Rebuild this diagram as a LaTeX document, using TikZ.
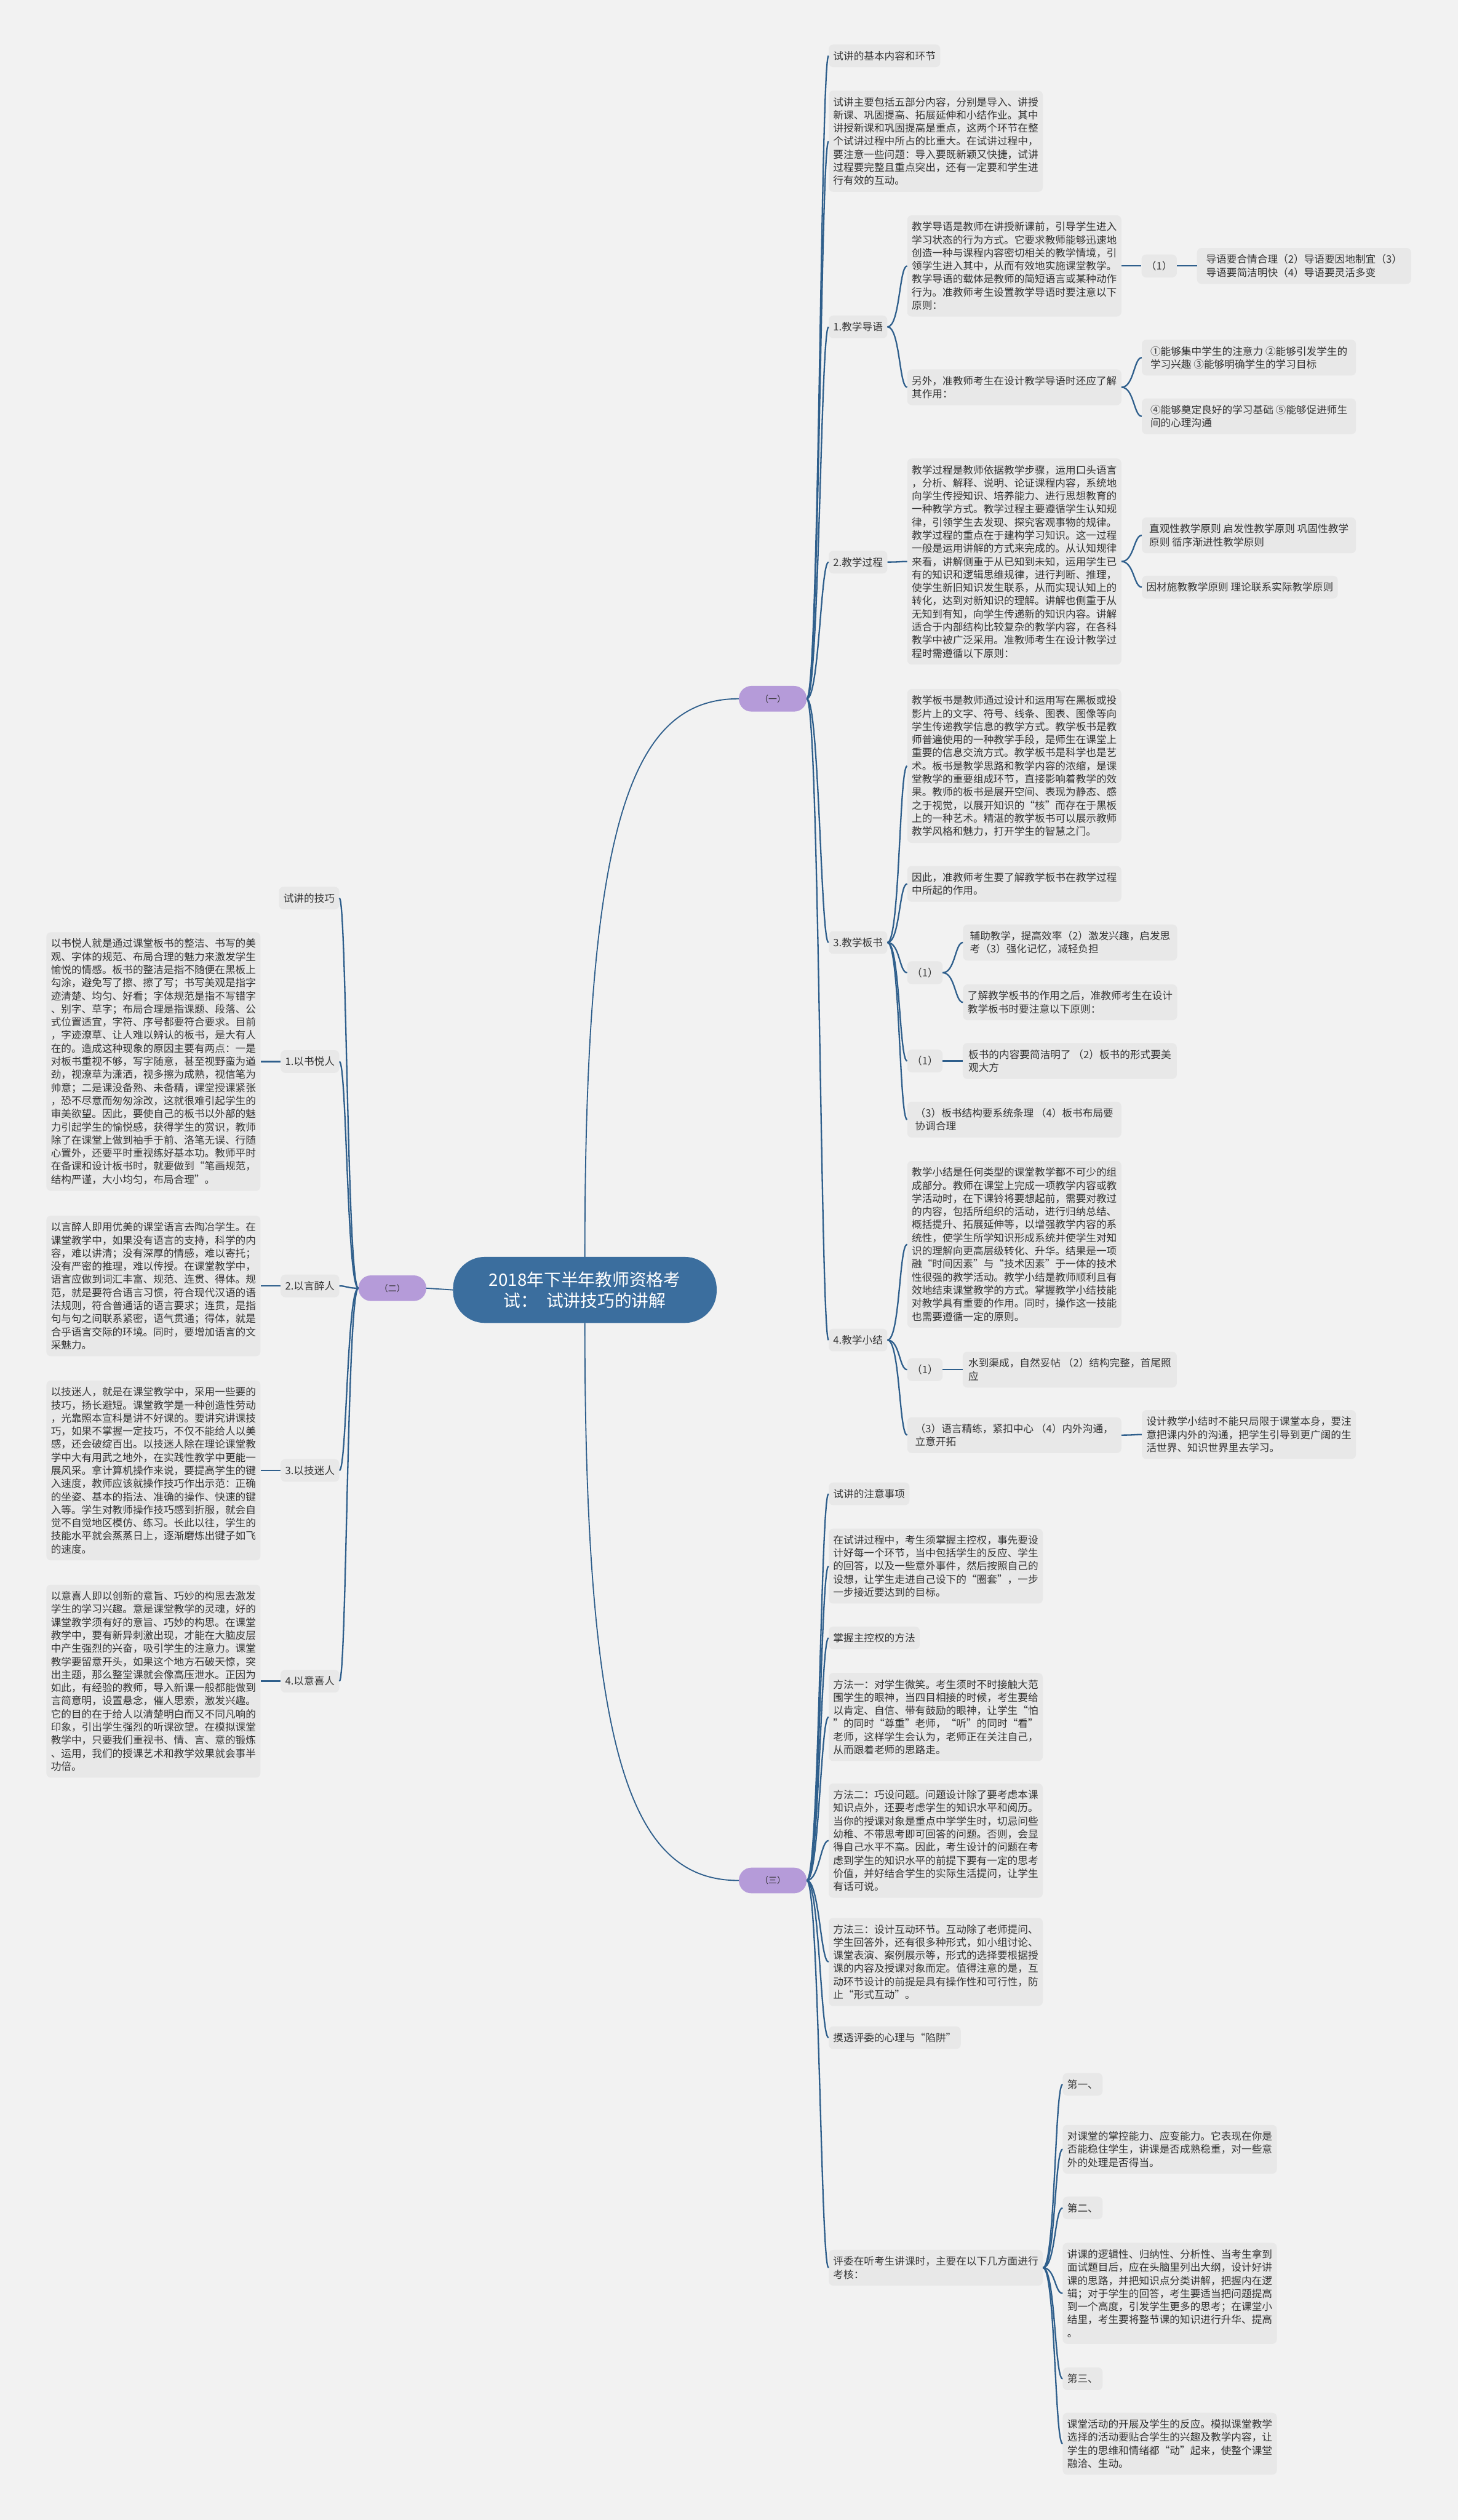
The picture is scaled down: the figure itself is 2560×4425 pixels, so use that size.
\documentclass[tikz,border=0pt]{standalone}
\usepackage{fontspec}
\setmainfont{Noto Sans CJK SC}
\usetikzlibrary{positioning}
\definecolor{MapPaper}{HTML}{F2F2F2}
\definecolor{MapCard}{HTML}{E8E8E8}
\definecolor{MapInk}{HTML}{333333}
\definecolor{MapLine}{HTML}{2F5F8C}
\definecolor{MapNavy}{HTML}{3B6E9E}
\definecolor{MapLilac}{HTML}{B59BD9}
\newcommand{\cardfont}{\fontsize{18}{23}\selectfont}
\newcommand{\titlefont}{\fontsize{30}{37}\selectfont}
\newcommand{\tagfont}{\fontsize{15}{18}\selectfont}

\begin{document}
\begin{tikzpicture}[
  x=1pt, y=-1pt,
  node distance=35pt,
  topic/.style={fill=MapCard, rounded corners=8pt, text=MapInk, font=\cardfont, align=left, inner xsep=8pt, inner ysep=11.5pt},
  card/.style={topic, minimum width=376pt},
  branch/.style={fill=MapLilac, rounded corners=22pt, minimum width=119pt, minimum height=45pt, inner sep=0pt, text=MapInk, font=\tagfont},
  rootnode/.style={fill=MapNavy, rounded corners=56pt, minimum width=463pt, minimum height=116pt, inner sep=0pt, align=center, text=white, font=\titlefont},
  link/.style={draw=MapLine, line width=2.5pt},
  trunk/.style={draw=MapLine, line width=2pt},
  rlink/.style={link, to path={.. controls +(22,0) and +(-14,0) .. (\tikztotarget) \tikztonodes}},
  llink/.style={link, to path={.. controls +(-20,0) and +(13,0) .. (\tikztotarget) \tikztonodes}}
]
\useasboundingbox (0,0) rectangle (2560,4425);
\fill[MapPaper] (0,0) rectangle (2560,4425);

% centre and the three branches
\node[rootnode] (root) at (1027,2265) {2018年下半年教师资格考\\试：\enspace 试讲技巧的讲解};
\node[branch] (b1) at (1357,1227) {（一）};
\node[branch] (b2) at (689,2262) {（二）};
\node[branch] (b3) at (1357,3302) {（三）};
\draw[trunk] (root.north) .. controls +(0,-760) and +(-190,0) .. (b1.west);
\draw[trunk] (root.south) .. controls +(0,760) and +(-190,0) .. (b3.west);
\draw[trunk] (root.west) -- (b2.east);

% (一)
\node[topic, anchor=west] (n11) at (1455,98) {试讲的基本内容和环节};
\node[card, anchor=west] (n12) at (1455,248) {试讲主要包括五部分内容，分别是导入、讲授\\新课、巩固提高、拓展延伸和小结作业。其中\\讲授新课和巩固提高是重点，这两个环节在整\\个试讲过程中所占的比重大。在试讲过程中，\\要注意一些问题：导入要既新颖又快捷，试讲\\过程要完整且重点突出，还有一定要和学生进\\行有效的互动。};
\node[topic, anchor=west] (n13) at (1455,574) {1.教学导语};
\node[topic, anchor=west] (n14) at (1455,987) {2.教学过程};
\node[topic, anchor=west] (n15) at (1455,1655) {3.教学板书};
\node[topic, anchor=west] (n16) at (1455,2353) {4.教学小结};

\node[card, anchor=west] (n131) at (1593,467) {教学导语是教师在讲授新课前，引导学生进入\\学习状态的行为方式。它要求教师能够迅速地\\创造一种与课程内容密切相关的教学情境，引\\领学生进入其中，从而有效地实施课堂教学。\\教学导语的载体是教师的简短语言或某种动作\\行为。准教师考生设置教学导语时要注意以下\\原则：};
\node[topic, right=of n131] (n1311) {（1）};
\node[card, right=of n1311] (n13111) {导语要合情合理（2）导语要因地制宜（3）\\导语要简洁明快（4）导语要灵活多变};
\node[card, anchor=west] (n132) at (1593,680) {另外，准教师考生在设计教学导语时还应了解\\其作用：};
\node[card, anchor=west] (n1321) at (2005,628) {①能够集中学生的注意力 ②能够引发学生的\\学习兴趣 ③能够明确学生的学习目标};
\node[card, anchor=west] (n1322) at (2005,731) {④能够奠定良好的学习基础 ⑤能够促进师生\\间的心理沟通};

\node[card, anchor=west] (n141) at (1593,986) {教学过程是教师依据教学步骤，运用口头语言\\，分析、解释、说明、论证课程内容，系统地\\向学生传授知识、培养能力、进行思想教育的\\一种教学方式。教学过程主要遵循学生认知规\\律，引领学生去发现、探究客观事物的规律。\\教学过程的重点在于建构学习知识。这一过程\\一般是运用讲解的方式来完成的。从认知规律\\来看，讲解侧重于从已知到未知，运用学生已\\有的知识和逻辑思维规律，进行判断、推理，\\使学生新旧知识发生联系，从而实现认知上的\\转化，达到对新知识的理解。讲解也侧重于从\\无知到有知，向学生传递新的知识内容。讲解\\适合于内部结构比较复杂的教学内容，在各科\\教学中被广泛采用。准教师考生在设计教学过\\程时需遵循以下原则：};
\node[card, anchor=west] (n1411) at (2005,940) {直观性教学原则 启发性教学原则 巩固性教学\\原则 循序渐进性教学原则};
\node[topic, anchor=west] (n1412) at (2005,1031) {因材施教教学原则 理论联系实际教学原则};

\node[card, anchor=west] (n151) at (1593,1345) {教学板书是教师通过设计和运用写在黑板或投\\影片上的文字、符号、线条、图表、图像等向\\学生传递教学信息的教学方式。教学板书是教\\师普遍使用的一种教学手段，是师生在课堂上\\重要的信息交流方式。教学板书是科学也是艺\\术。板书是教学思路和教学内容的浓缩，是课\\堂教学的重要组成环节，直接影响着教学的效\\果。教师的板书是展开空间、表现为静态、感\\之于视觉，以展开知识的“核”而存在于黑板\\上的一种艺术。精湛的教学板书可以展示教师\\教学风格和魅力，打开学生的智慧之门。};
\node[card, anchor=west] (n152) at (1593,1552) {因此，准教师考生要了解教学板书在教学过程\\中所起的作用。};
\node[topic, anchor=west] (n153) at (1593,1708) {（1）};
\node[card, anchor=west] (n1531) at (1691,1655) {辅助教学，提高效率（2）激发兴趣，启发思\\考（3）强化记忆，减轻负担};
\node[card, anchor=west] (n1532) at (1691,1760) {了解教学板书的作用之后，准教师考生在设计\\教学板书时要注意以下原则：};
\node[topic, anchor=west] (n154) at (1593,1863) {（1）};
\node[card, right=of n154] (n1541) {板书的内容要简洁明了 （2）板书的形式要美\\观大方};
\node[card, anchor=west] (n155) at (1593,1966) {（3）板书结构要系统条理 （4）板书布局要\\协调合理};

\node[card, anchor=west] (n161) at (1593,2185) {教学小结是任何类型的课堂教学都不可少的组\\成部分。教师在课堂上完成一项教学内容或教\\学活动时，在下课铃将要想起前，需要对教过\\的内容，包括所组织的活动，进行归纳总结、\\概括提升、拓展延伸等，以增强教学内容的系\\统性，使学生所学知识形成系统并使学生对知\\识的理解向更高层级转化、升华。结果是一项\\融“时间因素”与“技术因素”于一体的技术\\性很强的教学活动。教学小结是教师顺利且有\\效地结束课堂教学的方式。掌握教学小结技能\\对教学具有重要的作用。同时，操作这一技能\\也需要遵循一定的原则。};
\node[topic, anchor=west] (n162) at (1593,2405) {（1）};
\node[card, right=of n162] (n1621) {水到渠成，自然妥帖 （2）结构完整，首尾照\\应};
\node[card, anchor=west] (n163) at (1593,2520) {（3）语言精练，紧扣中心 （4）内外沟通，\\立意开拓};
\node[card, anchor=west] (n1631) at (2005,2519) {设计教学小结时不能只局限于课堂本身，要注\\意把课内外的沟通，把学生引导到更广阔的生\\活世界、知识世界里去学习。};

\draw[rlink] (b1.east) to (n11.west);
\draw[rlink] (b1.east) to (n12.west);
\draw[rlink] (b1.east) to (n13.west);
\draw[rlink] (b1.east) to (n14.west);
\draw[rlink] (b1.east) to (n15.west);
\draw[rlink] (b1.east) to (n16.west);
\draw[rlink] (n13.east) to (n131.west);
\draw[rlink] (n13.east) to (n132.west);
\draw[rlink] (n131.east) to (n1311.west);
\draw[rlink] (n1311.east) to (n13111.west);
\draw[rlink] (n132.east) to (n1321.west);
\draw[rlink] (n132.east) to (n1322.west);
\draw[rlink] (n14.east) to (n141.west);
\draw[rlink] (n141.east) to (n1411.west);
\draw[rlink] (n141.east) to (n1412.west);
\draw[rlink] (n15.east) to (n151.west);
\draw[rlink] (n15.east) to (n152.west);
\draw[rlink] (n15.east) to (n153.west);
\draw[rlink] (n15.east) to (n154.west);
\draw[rlink] (n15.east) to (n155.west);
\draw[rlink] (n153.east) to (n1531.west);
\draw[rlink] (n153.east) to (n1532.west);
\draw[rlink] (n154.east) to (n1541.west);
\draw[rlink] (n16.east) to (n161.west);
\draw[rlink] (n16.east) to (n162.west);
\draw[rlink] (n16.east) to (n163.west);
\draw[rlink] (n162.east) to (n1621.west);
\draw[rlink] (n163.east) to (n1631.west);

% (二)
\node[topic, anchor=east] (n21) at (596,1577) {试讲的技巧};
\node[topic, anchor=east] (n22) at (596,1864) {1.以书悦人};
\node[topic, anchor=east] (n23) at (596,2258) {2.以言醉人};
\node[topic, anchor=east] (n24) at (596,2582) {3.以技迷人};
\node[topic, anchor=east] (n25) at (596,2952) {4.以意喜人};
\node[card, left=of n22] (n221) {以书悦人就是通过课堂板书的整洁、书写的美\\观、字体的规范、布局合理的魅力来激发学生\\愉悦的情感。板书的整洁是指不随便在黑板上\\勾涂，避免写了擦、擦了写；书写美观是指字\\迹清楚、均匀、好看；字体规范是指不写错字\\、别字、草字；布局合理是指课题、段落、公\\式位置适宜，字符、序号都要符合要求。目前\\，字迹潦草、让人难以辨认的板书，是大有人\\在的。造成这种现象的原因主要有两点：一是\\对板书重视不够，写字随意，甚至视野蛮为遒\\劲，视潦草为潇洒，视多擦为成熟，视信笔为\\帅意；二是课没备熟、未备精，课堂授课紧张\\，恐不尽意而匆匆涂改，这就很难引起学生的\\审美欲望。因此，要使自己的板书以外部的魅\\力引起学生的愉悦感，获得学生的赏识，教师\\除了在课堂上做到袖手于前、洛笔无误、行随\\心置外，还要平时重视练好基本功。教师平时\\在备课和设计板书时，就要做到“笔画规范，\\结构严谨，大小均匀，布局合理”。};
\node[card, left=of n23] (n231) {以言醉人即用优美的课堂语言去陶冶学生。在\\课堂教学中，如果没有语言的支持，科学的内\\容，难以讲清；没有深厚的情感，难以寄托；\\没有严密的推理，难以传授。在课堂教学中，\\语言应做到词汇丰富、规范、连贯、得体。规\\范，就是要符合语言习惯，符合现代汉语的语\\法规则，符合普通话的语言要求；连贯，是指\\句与句之间联系紧密，语气贯通；得体，就是\\合乎语言交际的环境。同时，要增加语言的文\\采魅力。};
\node[card, left=of n24] (n241) {以技迷人，就是在课堂教学中，采用一些要的\\技巧，扬长避短。课堂教学是一种创造性劳动\\，光靠照本宣科是讲不好课的。要讲究讲课技\\巧，如果不掌握一定技巧，不仅不能给人以美\\感，还会破绽百出。以技迷人除在理论课堂教\\学中大有用武之地外，在实践性教学中更能一\\展风采。拿计算机操作来说，要提高学生的键\\入速度，教师应该就操作技巧作出示范：正确\\的坐姿、基本的指法、准确的操作、快速的键\\入等。学生对教师操作技巧感到折服，就会自\\觉不自觉地区模仿、练习。长此以往，学生的\\技能水平就会蒸蒸日上，逐渐磨炼出键子如飞\\的速度。};
\node[card, left=of n25] (n251) {以意喜人即以创新的意旨、巧妙的构思去激发\\学生的学习兴趣。意是课堂教学的灵魂，好的\\课堂教学须有好的意旨、巧妙的构思。在课堂\\教学中，要有新异刺激出现，才能在大脑皮层\\中产生强烈的兴奋，吸引学生的注意力。课堂\\教学要留意开头，如果这个地方石破天惊，突\\出主题，那么整堂课就会像高压泄水。正因为\\如此，有经验的教师，导入新课一般都能做到\\言简意明，设置悬念，催人思索，激发兴趣。\\它的目的在于给人以清楚明白而又不同凡响的\\印象，引出学生强烈的听课欲望。在模拟课堂\\教学中，只要我们重视书、情、言、意的锻炼\\、运用，我们的授课艺术和教学效果就会事半\\功倍。};

\draw[llink] (b2.west) to (n21.east);
\draw[llink] (b2.west) to (n22.east);
\draw[llink] (b2.west) to (n23.east);
\draw[llink] (b2.west) to (n24.east);
\draw[llink] (b2.west) to (n25.east);
\draw[llink] (n22.west) to (n221.east);
\draw[llink] (n23.west) to (n231.east);
\draw[llink] (n24.west) to (n241.east);
\draw[llink] (n25.west) to (n251.east);

% (三)
\node[topic, anchor=west] (n31) at (1455,2623) {试讲的注意事项};
\node[card, anchor=west] (n32) at (1455,2750) {在试讲过程中，考生须掌握主控权，事先要设\\计好每一个环节，当中包括学生的反应、学生\\的回答，以及一些意外事件，然后按照自己的\\设想，让学生走进自己设下的“圈套”，一步\\一步接近要达到的目标。};
\node[topic, anchor=west] (n33) at (1455,2876) {掌握主控权的方法};
\node[card, anchor=west] (n34) at (1455,3015) {方法一：对学生微笑。考生须时不时接触大范\\围学生的眼神，当四目相接的时候，考生要给\\以肯定、自信、带有鼓励的眼神，让学生“怕\\”的同时“尊重”老师，“听”的同时“看”\\老师，这样学生会认为，老师正在关注自己，\\从而跟着老师的思路走。};
\node[card, anchor=west] (n35) at (1455,3232) {方法二：巧设问题。问题设计除了要考虑本课\\知识点外，还要考虑学生的知识水平和阅历。\\当你的授课对象是重点中学学生时，切忌问些\\幼稚、不带思考即可回答的问题。否则，会显\\得自己水平不高。因此，考生设计的问题在考\\虑到学生的知识水平的前提下要有一定的思考\\价值，并好结合学生的实际生活提问，让学生\\有话可说。};
\node[card, anchor=west] (n36) at (1455,3445) {方法三：设计互动环节。互动除了老师提问、\\学生回答外，还有很多种形式，如小组讨论、\\课堂表演、案例展示等，形式的选择要根据授\\课的内容及授课对象而定。值得注意的是，互\\动环节设计的前提是具有操作性和可行性，防\\止“形式互动”。};
\node[topic, anchor=west] (n37) at (1455,3578) {摸透评委的心理与“陷阱”};
\node[card, anchor=west] (n38) at (1455,3982) {评委在听考生讲课时，主要在以下几方面进行\\考核：};
\node[topic, anchor=west] (n381) at (1866,3660) {第一、};
\node[card, anchor=west] (n382) at (1866,3774) {对课堂的掌控能力、应变能力。它表现在你是\\否能稳住学生，讲课是否成熟稳重，对一些意\\外的处理是否得当。};
\node[topic, anchor=west] (n383) at (1866,3877) {第二、};
\node[card, anchor=west] (n384) at (1866,4027) {讲课的逻辑性、归纳性、分析性、当考生拿到\\面试题目后，应在头脑里列出大纲，设计好讲\\课的思路，并把知识点分类讲解，把握内在逻\\辑；对于学生的回答，考生要适当把问题提高\\到一个高度，引发学生更多的思考；在课堂小\\结里，考生要将整节课的知识进行升华、提高\\。};
\node[topic, anchor=west] (n385) at (1866,4177) {第三、};
\node[card, anchor=west] (n386) at (1866,4291) {课堂活动的开展及学生的反应。模拟课堂教学\\选择的活动要贴合学生的兴趣及教学内容，让\\学生的思维和情绪都“动”起来，使整个课堂\\融洽、生动。};

\draw[rlink] (b3.east) to (n31.west);
\draw[rlink] (b3.east) to (n32.west);
\draw[rlink] (b3.east) to (n33.west);
\draw[rlink] (b3.east) to (n34.west);
\draw[rlink] (b3.east) to (n35.west);
\draw[rlink] (b3.east) to (n36.west);
\draw[rlink] (b3.east) to (n37.west);
\draw[rlink] (b3.east) to (n38.west);
\draw[rlink] (n38.east) to (n381.west);
\draw[rlink] (n38.east) to (n382.west);
\draw[rlink] (n38.east) to (n383.west);
\draw[rlink] (n38.east) to (n384.west);
\draw[rlink] (n38.east) to (n385.west);
\draw[rlink] (n38.east) to (n386.west);
\end{tikzpicture}
\end{document}
